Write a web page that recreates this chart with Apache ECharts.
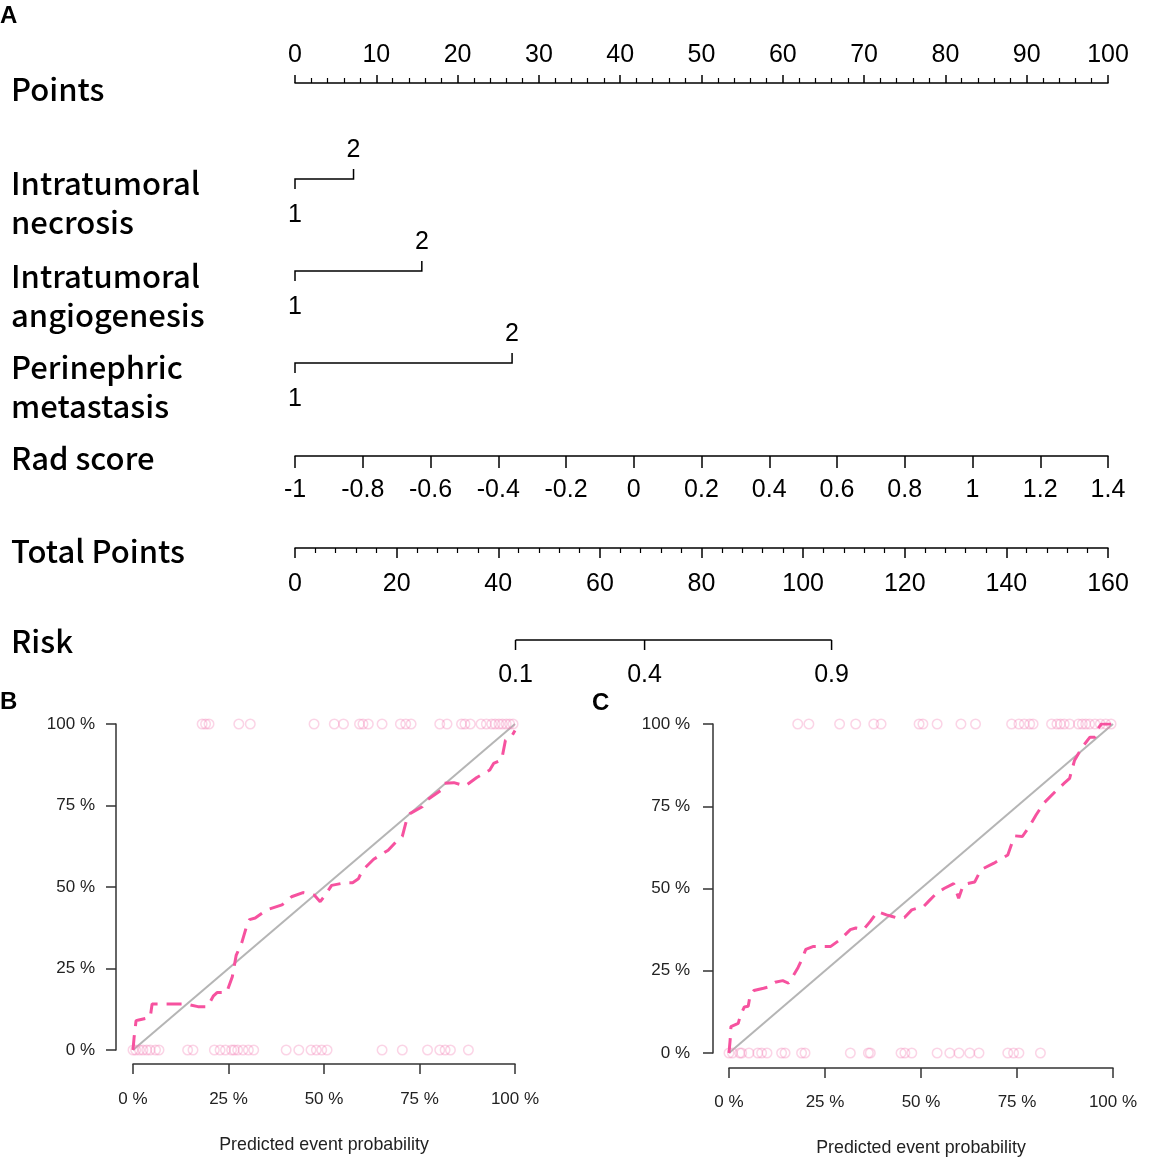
<!DOCTYPE html>
<html>
<head>
<meta charset="utf-8">
<title>Nomogram and calibration curves</title>
<script src="https://cdn.jsdelivr.net/npm/echarts@6/dist/echarts.min.js"></script>
<style>
  html, body { margin: 0; padding: 0; background: #fff; }
  #main { width: 1149px; height: 1161px; }
</style>
</head>
<body>
<div id="main"></div>
<script>
// ---- nomogram data ----
var rowLabels = [
    ["Points"],
    ["Intratumoral", "necrosis"],
    ["Intratumoral", "angiogenesis"],
    ["Perinephric", "metastasis"],
    ["Rad score"],
    ["Total Points"],
    ["Risk"]
];
var catNames = ["Intratumoral necrosis", "Intratumoral angiogenesis", "Perinephric metastasis"];
var catPoints = [7.2, 15.6, 26.7];      // points for level 2 (level 1 = 0)
var catLevels = ["1", "2"];
var riskLabels = ["0.1", "0.4", "0.9"];
var riskTotal = [43.4, 68.8, 105.6];    // total points where risk label sits

// ---- calibration data (B) ----
var calBCurve = [[0,0],[0.003,0.04],[0.008,0.09],[0.015,0.092],[0.02,0.095],[0.045,0.10],[0.05,0.141],
    [0.10,0.141],[0.14,0.141],[0.17,0.133],[0.195,0.133],[0.21,0.165],[0.22,0.176],[0.245,0.176],
    [0.26,0.225],[0.27,0.29],[0.285,0.33],[0.30,0.39],[0.305,0.40],[0.32,0.405],[0.35,0.43],[0.39,0.445],
    [0.415,0.47],[0.445,0.483],[0.475,0.475],[0.49,0.455],[0.50,0.47],[0.52,0.505],[0.555,0.513],
    [0.575,0.513],[0.59,0.525],[0.60,0.55],[0.63,0.585],[0.668,0.613],[0.69,0.64],[0.705,0.655],
    [0.715,0.70],[0.725,0.725],[0.757,0.746],[0.77,0.767],[0.81,0.80],[0.815,0.818],[0.84,0.82],
    [0.87,0.81],[0.90,0.836],[0.934,0.859],[0.944,0.879],[0.965,0.89],[0.975,0.95],[0.99,0.96],[1.0,0.98]];
var calBTop = [0.181,0.190,0.199,0.277,0.307,0.474,0.527,0.551,0.593,0.602,0.616,0.652,0.700,0.714,0.728,
    0.803,0.822,0.860,0.869,0.883,0.911,0.925,0.939,0.948,0.958,0.967,0.977,0.986,0.995];
var calBBottom = [0,0.007,0.017,0.026,0.036,0.045,0.059,0.068,0.143,0.157,0.213,0.228,0.242,0.258,0.265,
    0.274,0.288,0.302,0.316,0.401,0.434,0.466,0.480,0.494,0.508,0.652,0.705,0.771,0.803,0.817,0.831,0.878];

// ---- calibration data (C) ----
var calCCurve = [[0,0],[0.003,0.04],[0.005,0.08],[0.01,0.086],[0.024,0.09],[0.03,0.115],[0.04,0.14],
    [0.05,0.142],[0.055,0.175],[0.065,0.19],[0.09,0.197],[0.10,0.20],[0.12,0.215],[0.14,0.22],[0.155,0.212],
    [0.165,0.23],[0.18,0.26],[0.19,0.285],[0.20,0.315],[0.22,0.324],[0.265,0.324],[0.29,0.345],[0.316,0.375],
    [0.33,0.38],[0.35,0.375],[0.368,0.40],[0.387,0.43],[0.41,0.42],[0.425,0.415],[0.44,0.41],[0.457,0.412],
    [0.476,0.435],[0.49,0.44],[0.505,0.443],[0.519,0.46],[0.54,0.485],[0.56,0.50],[0.585,0.515],[0.598,0.47],
    [0.61,0.51],[0.62,0.515],[0.64,0.52],[0.656,0.557],[0.69,0.577],[0.726,0.602],[0.736,0.635],[0.745,0.66],
    [0.764,0.658],[0.783,0.69],[0.80,0.724],[0.82,0.76],[0.85,0.795],[0.873,0.82],[0.887,0.835],[0.90,0.89],
    [0.92,0.93],[0.94,0.96],[0.953,0.96],[0.957,0.98],[0.97,1.0],[1.0,1.0]];
var calCTop = [0.179,0.208,0.288,0.330,0.377,0.396,0.495,0.505,0.542,0.604,0.642,0.736,0.755,0.769,0.783,
    0.792,0.840,0.854,0.863,0.873,0.887,0.910,0.920,0.929,0.939,0.953,0.967,0.981,0.995];
var calCBottom = [0,0.009,0.028,0.033,0.052,0.075,0.085,0.099,0.137,0.146,0.189,0.198,0.316,0.363,0.368,
    0.448,0.458,0.476,0.542,0.575,0.599,0.627,0.651,0.726,0.741,0.755,0.811];

var rowLabelY = [[89], [183, 222], [276, 315], [367, 406], [458], [551], [641]];

var numFont = "Liberation Sans";
var black = "#000";

function nomoAxis(grid, pos, min, max, interval, minorSplit, tickLen, margin) {
    return {
        gridIndex: grid, type: "value", position: pos, min: min, max: max, interval: interval,
        axisLine: {show: true, lineStyle: {color: black, width: 1.5}},
        axisTick: {show: true, length: tickLen, lineStyle: {color: black, width: 1.5}},
        minorTick: {show: minorSplit > 0, splitNumber: minorSplit || 5, length: 5, lineStyle: {color: black, width: 1.2}},
        splitLine: {show: false}, minorSplitLine: {show: false},
        axisLabel: {color: black, fontSize: 25, fontFamily: numFont, margin: margin}
    };
}

function hiddenAxis(grid, min, max, inverse) {
    return {gridIndex: grid, type: "value", min: min, max: max, inverse: !!inverse, show: false,
        splitLine: {show: false}};
}

function pct(v) { return Math.round(v * 100) + " %"; }

// calibration axes sit on their own thin grids, set apart from the plot like R draws them
function calX(grid, margin, nameGap) {
    return {
        gridIndex: grid, type: "value", min: 0, max: 1, interval: 0.25, position: "bottom",
        axisLine: {show: true, lineStyle: {color: "#333", width: 1.5}},
        axisTick: {show: true, length: 10, lineStyle: {color: "#333", width: 1.5}},
        splitLine: {show: false},
        axisLabel: {formatter: pct, color: "#222", fontSize: 17, fontFamily: numFont, margin: margin},
        name: "Predicted event probability", nameLocation: "middle", nameGap: nameGap,
        nameTextStyle: {color: "#222", fontSize: 17.8, fontFamily: numFont}
    };
}

function calY(grid, margin) {
    return {
        gridIndex: grid, type: "value", min: 0, max: 1, interval: 0.25, position: "left",
        axisLine: {show: true, lineStyle: {color: "#333", width: 1.5}},
        axisTick: {show: true, length: 10, lineStyle: {color: "#333", width: 1.5}},
        splitLine: {show: false},
        axisLabel: {formatter: pct, color: "#222", fontSize: 17, fontFamily: numFont, margin: margin}
    };
}

function calSeries(axisIdx, curve, top, bottom) {
    var ring = {color: "rgba(0,0,0,0)", borderColor: "rgba(244,120,178,0.4)", borderWidth: 1.5};
    return [
        {type: "line", xAxisIndex: axisIdx, yAxisIndex: axisIdx, data: [[0, 0], [1, 1]], showSymbol: false,
            lineStyle: {color: "#b5b5b5", width: 2}, silent: true, z: 2},
        {type: "scatter", xAxisIndex: axisIdx, yAxisIndex: axisIdx, symbol: "circle", symbolSize: 9.5,
            data: top.map(function (x) { return [x, 1]; }), itemStyle: ring, clip: false, z: 3},
        {type: "scatter", xAxisIndex: axisIdx, yAxisIndex: axisIdx, symbol: "circle", symbolSize: 9.5,
            data: bottom.map(function (x) { return [x, 0]; }), itemStyle: ring, clip: false, z: 3},
        {type: "line", xAxisIndex: axisIdx, yAxisIndex: axisIdx, data: curve, showSymbol: false,
            lineStyle: {color: "#f6529f", width: 3, type: [15, 9]}, silent: true, z: 4}
    ];
}

var graphics = [];
rowLabels.forEach(function (lines, i) {
    lines.forEach(function (t, j) {
        graphics.push({type: "text", x: 11, y: rowLabelY[i][j],
            style: {text: t, verticalAlign: "middle", fill: black, fontSize: 31, fontWeight: 500,
                fontFamily: "Noto Sans CJK SC"}});
    });
});
[["A", 0, 16], ["B", 0, 702], ["C", 592, 703]].forEach(function (p) {
    graphics.push({type: "text", x: p[1], y: p[2],
        style: {text: p[0], verticalAlign: "middle", fill: black, fontSize: 24, fontWeight: "bold", fontFamily: numFont}});
});

var chart = echarts.init(document.getElementById("main"));
var option = {
    backgroundColor: "#fff",
    animation: false,
    graphic: graphics,
    grid: [
        {left: 295, width: 813, top: 82, height: 1, outerBoundsMode: "none"},     // 0 points
        {left: 295, width: 813, top: 133, height: 276, outerBoundsMode: "none"},  // 1 categorical rows
        {left: 295, width: 813, top: 455, height: 1, outerBoundsMode: "none"},    // 2 rad score
        {left: 295, width: 813, top: 547, height: 1, outerBoundsMode: "none"},    // 3 total points
        {left: 295, width: 813, top: 620, height: 40, outerBoundsMode: "none"},   // 4 risk
        {left: 133, width: 382, top: 724, height: 326, outerBoundsMode: "none"},  // 5 B plot
        {left: 729, width: 384, top: 724, height: 329, outerBoundsMode: "none"},  // 6 C plot
        {left: 133, width: 382, top: 1063, height: 1, outerBoundsMode: "none"},   // 7 B x axis
        {left: 116, width: 1, top: 724, height: 326, outerBoundsMode: "none"},    // 8 B y axis
        {left: 729, width: 384, top: 1067, height: 1, outerBoundsMode: "none"},   // 9 C x axis
        {left: 713, width: 1, top: 724, height: 329, outerBoundsMode: "none"}     // 10 C y axis
    ],
    xAxis: [
        nomoAxis(0, "top", 0, 100, 10, 5, 8, 14),
        hiddenAxis(1, 0, 100),
        nomoAxis(2, "bottom", -1, 1.4, 0.2, 0, 12, 22),
        nomoAxis(3, "bottom", 0, 160, 20, 5, 10, 24),
        hiddenAxis(4, 0, 160),
        hiddenAxis(5, 0, 1),
        hiddenAxis(6, 0, 1),
        calX(7, 27, 72),
        hiddenAxis(8, 0, 1),
        calX(9, 26, 71),
        hiddenAxis(10, 0, 1)
    ],
    yAxis: [
        hiddenAxis(0, 0, 1),
        hiddenAxis(1, 0, 3, true),
        hiddenAxis(2, 0, 1),
        hiddenAxis(3, 0, 1),
        hiddenAxis(4, 0, 1),
        hiddenAxis(5, 0, 1),
        hiddenAxis(6, 0, 1),
        hiddenAxis(7, 0, 1),
        calY(8, 21),
        hiddenAxis(9, 0, 1),
        calY(10, 23)
    ],
    series: [
        {
            name: "levels", type: "custom", xAxisIndex: 1, yAxisIndex: 1,
            data: catPoints.map(function (p, i) { return [p, i + 0.5, catNames[i]]; }),
            renderItem: function (params, api) {
                var p0 = api.coord([0, api.value(1)]);
                var p1 = api.coord([api.value(0), api.value(1)]);
                var txt = {align: "center", verticalAlign: "middle", fill: black, fontSize: 25, fontFamily: numFont};
                return {type: "group", children: [
                    {type: "polyline", shape: {points: [[p0[0], p0[1] + 10], [p0[0], p0[1]], [p1[0], p1[1]], [p1[0], p1[1] - 10]]},
                        style: {stroke: black, lineWidth: 1.5, fill: "none"}},
                    {type: "text", style: Object.assign({text: catLevels[0], x: p0[0], y: p0[1] + 36}, txt)},
                    {type: "text", style: Object.assign({text: catLevels[1], x: p1[0], y: p1[1] - 29}, txt)}
                ]};
            }
        },
        {
            name: "risk line", type: "line", xAxisIndex: 4, yAxisIndex: 4, showSymbol: false, silent: true,
            data: [[riskTotal[0], 0.5], [riskTotal[riskTotal.length - 1], 0.5]],
            lineStyle: {color: black, width: 1.5}
        },
        {
            name: "risk", type: "custom", xAxisIndex: 4, yAxisIndex: 4,
            data: riskTotal.map(function (t, i) { return [t, 0.5, riskLabels[i]]; }),
            renderItem: function (params, api) {
                var p = api.coord([api.value(0), api.value(1)]);
                return {type: "group", children: [
                    {type: "line", shape: {x1: p[0], y1: p[1], x2: p[0], y2: p[1] + 10}, style: {stroke: black, lineWidth: 1.5}},
                    {type: "text", style: {text: riskLabels[params.dataIndex], x: p[0], y: p[1] + 35, align: "center",
                        verticalAlign: "middle", fill: black, fontSize: 25, fontFamily: numFont}}
                ]};
            }
        }
    ].concat(calSeries(5, calBCurve, calBTop, calBBottom), calSeries(6, calCCurve, calCTop, calCBottom))
};
chart.setOption(option);
</script>
</body>
</html>
